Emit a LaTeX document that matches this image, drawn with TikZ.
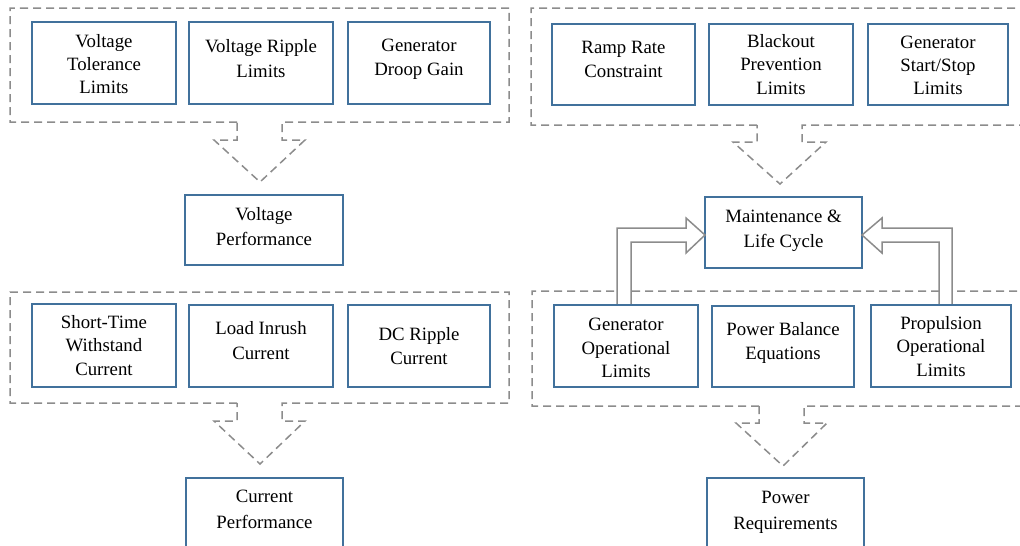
\documentclass[tikz,border=0pt]{standalone}
\usepackage{fontspec}
\setmainfont{Liberation Serif}
\usetikzlibrary{calc}
\definecolor{boxblue}{RGB}{65,113,156}
\definecolor{linegray}{RGB}{140,140,140}

% box with its label: name, x1, y1, x2, y2, text lift, text
\newcommand\mkbox[7]{%
  \node[box,minimum width={#4-#2},minimum height={#5-#3}] (#1) at ({(#2+#4)/2},{(#3+#5)/2}) {};
  \node[txt] (#1-t) at ($(#1.center)+(0,#6)$) {#7};}

\begin{document}
\begin{tikzpicture}[x=1pt,y=-1pt,
  box/.style={draw=boxblue,line width=1.6pt,fill=white,inner sep=0pt,outer sep=0pt},
  txt/.style={align=center,inner sep=0pt,font=\fontsize{18.8}{23.3}\selectfont},
  group/.style={draw=linegray,line width=1.5pt,dash pattern=on 8pt off 5pt,line join=miter},
  fat/.style={draw=linegray,line width=1.5pt,fill=white,line join=miter}]
\useasboundingbox (0,0) rectangle (1020,546);
\clip (0,0) rectangle (1020,546);

% dashed groups, each ending in an open down arrow
\draw[group] (237,122) -- (10,122) -- (10,8) -- (509,8) -- (509,122) -- (282,122)
  -- (282,140) -- (305,140) -- (260,182) -- (214,140) -- (237,140) -- cycle;
\draw[group] (757,125) -- (531,125) -- (531,8) -- (1030,8) -- (1030,125) -- (802,125)
  -- (802,142) -- (826,142) -- (780,184) -- (733,142) -- (757,142) -- cycle;
\draw[group] (237,403) -- (10,403) -- (10,292) -- (509,292) -- (509,403) -- (282,403)
  -- (282,421) -- (305,421) -- (260,464) -- (214,421) -- (237,421) -- cycle;
\draw[group] (759,406) -- (532,406) -- (532,291) -- (1030,291) -- (1030,406) -- (804,406)
  -- (804,423) -- (827,423) -- (783,466) -- (736,423) -- (759,423) -- cycle;

% boxes
\mkbox{tl1}{32}{22}{176}{104}{1}{Voltage\\Tolerance\\Limits}
\mkbox{tl2}{189}{22}{333}{104}{-4.5}{Voltage Ripple\\[1pt]Limits}
\mkbox{tl3}{348}{22}{490}{104}{-3.5}{Generator\\[1pt]Droop Gain}
\mkbox{tr1}{552}{24}{695}{105}{-5}{Ramp Rate\\[1pt]Constraint}
\mkbox{tr2}{709}{24}{853}{105}{0}{Blackout\\Prevention\\Limits}
\mkbox{tr3}{868}{24}{1008}{105}{1}{Generator\\Start/Stop\\Limits}
\mkbox{vp}{185}{195}{343}{265}{-3.5}{Voltage\\[2pt]Performance}
\mkbox{ml}{705}{197}{862}{268}{-1.5}{Maintenance \&\\[2pt]Life Cycle}
\mkbox{bl1}{32}{304}{176}{387}{0}{Short-Time\\Withstand\\Current}
\mkbox{bl2}{189}{305}{333}{387}{-5.5}{Load Inrush\\[1pt]Current}
\mkbox{bl3}{348}{305}{490}{387}{0}{DC Ripple\\[1pt]Current}
\mkbox{br1}{554}{305}{698}{387}{2}{Generator\\Operational\\Limits}
\mkbox{br2}{712}{306}{854}{387}{-3.5}{Power Balance\\[1pt]Equations}
\mkbox{br3}{871}{305}{1011}{387}{0.5}{Propulsion\\Operational\\Limits}
\mkbox{cp}{186}{478}{343}{548}{-3.5}{Current\\[2.5pt]Performance}
\mkbox{pr}{707}{478}{864}{548}{-0.5}{Power\\[2.5pt]Requirements}

% hollow block arrows into the maintenance box
\draw[fat] (617,0 |- br1.north) -- (617,228) -- (686,228) -- (686,218) -- (ml.west |- 0,235)
  -- (686,253) -- (686,242) -- (631,242) -- (631,0 |- br1.north) -- cycle;
\draw[fat] (952,0 |- br3.north) -- (952,228) -- (882,228) -- (882,218) -- (ml.east |- 0,235)
  -- (882,253) -- (882,242) -- (939,242) -- (939,0 |- br3.north) -- cycle;
% redraw the box edges the arrow bases sit on
\draw[draw=boxblue,line width=1.6pt] (br1.north west) -- (br1.north east);
\draw[draw=boxblue,line width=1.6pt] (br3.north west) -- (br3.north east);
\end{tikzpicture}
\end{document}
